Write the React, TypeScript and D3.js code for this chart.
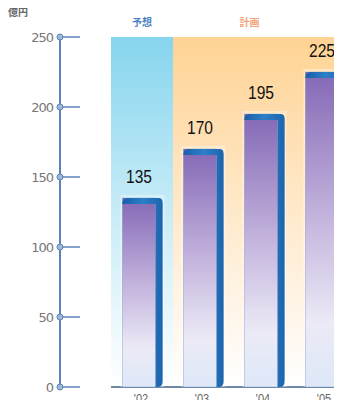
import * as d3 from 'd3'

// data
const years = ["'02", "'03", "'04", "'05"]
const values = [135, 170, 195, 225]
const yTicks = [0, 50, 100, 150, 200, 250]
const periodLabels = ['予想', '計画']

const W = 342
const H = 408

export default function App() {
  const y = d3.scaleLinear().domain([0, 250]).range([387, 37])
  const x = d3.scaleBand<string>().domain(years).range([112, 356]).paddingInner(0.34).paddingOuter(0.17)

  const step = x.step()
  const gap = step * 0.34
  const splitX = (x("'03") ?? 0) - gap / 2
  const panelLeft = 111
  const base = y(0)
  const side = 7

  return (
    <div style={{ margin: -8 }}>
      <svg width={W} height={H} style={{ display: 'block', background: '#fff' }}>
        <defs>
          <linearGradient id="bluePanel" x1="0" y1="0" x2="0" y2="1">
            <stop offset="0" stopColor="#86d5ee" />
            <stop offset="0.5" stopColor="#c8ecf7" />
            <stop offset="1" stopColor="#ffffff" />
          </linearGradient>
          <linearGradient id="orangePanel" x1="0" y1="0" x2="0" y2="1">
            <stop offset="0" stopColor="#ffd394" />
            <stop offset="0.5" stopColor="#ffe9cb" />
            <stop offset="1" stopColor="#ffffff" />
          </linearGradient>
          <linearGradient id="barFace" x1="0" y1="0" x2="0" y2="1">
            <stop offset="0" stopColor="#8468b6" />
            <stop offset="0.45" stopColor="#c2b2dc" />
            <stop offset="0.8" stopColor="#eceaf6" />
            <stop offset="1" stopColor="#dde8f8" />
          </linearGradient>
          <linearGradient id="barSide" x1="0" y1="0" x2="1" y2="0">
            <stop offset="0" stopColor="#1c5ea8" />
            <stop offset="0.5" stopColor="#2c80c8" />
            <stop offset="1" stopColor="#1d64ad" />
          </linearGradient>
        </defs>

        {/* period panels */}
        <rect x={panelLeft} y={y(250)} width={splitX - panelLeft} height={base - y(250)} fill="url(#bluePanel)" />
        <rect x={splitX} y={y(250)} width={W - splitX} height={base - y(250)} fill="url(#orangePanel)" />
        <text x={(panelLeft + splitX) / 2} y={26} textAnchor="middle" fontSize={10} fill="#4f7fc0"
          fontFamily="Noto Sans CJK JP, sans-serif" fontWeight="bold">{periodLabels[0]}</text>
        <text x={(splitX + W) / 2 - 8} y={26} textAnchor="middle" fontSize={10} fill="#f2a27a"
          fontFamily="Noto Sans CJK JP, sans-serif" fontWeight="bold">{periodLabels[1]}</text>

        {/* baseline */}
        <line x1={panelLeft} x2={W} y1={base} y2={base} stroke="#3f5f8a" strokeWidth={1.5} />

        {/* bars */}
        {years.map((yr, i) => {
          const x0 = x(yr) ?? 0
          const bw = x.bandwidth()
          const top = y(values[i])
          const face = bw - side
          const cx = x0 + face / 2
          return (
            <g key={yr}>
              <rect x={x0 - 2} y={top - 3} width={bw + 4} height={base - top + 3} fill="#ffffff" opacity={0.35} />
              <rect x={x0} y={top} width={face} height={base - top} fill="url(#barFace)" />
              <rect x={x0} y={top} width={face} height={base - top} fill="none" stroke="#6c8cc0" strokeWidth={0.6} opacity={0.6} />
              <path
                d={`M${x0},${top + 6} Q${x0},${top} ${x0 + 5},${top} L${x0 + bw - 4},${top} Q${x0 + bw},${top} ${x0 + bw},${top + 5} L${x0 + bw},${base - 6} Q${x0 + bw},${base} ${x0 + bw - 5},${base} L${x0 + face},${base} L${x0 + face},${top + 6} Z`}
                fill="url(#barSide)"
              />
              <text transform={`translate(${cx},${top - 15}) scale(0.82,1)`} textAnchor="middle" fontSize={19}
                fontFamily="Liberation Sans, Arial, sans-serif" fill="#111">
                {values[i]}
              </text>
              <text transform={`translate(${cx + 2},403) scale(0.85,1)`} textAnchor="middle" fontSize={13}
                fontFamily="Liberation Sans, sans-serif" fill="#666">
                {yr}
              </text>
            </g>
          )
        })}

        {/* y axis */}
        <line x1={60} x2={60} y1={y(250)} y2={base} stroke="#5b83b8" strokeWidth={2} />
        {yTicks.map(t => (
          <g key={t} transform={`translate(0,${y(t)})`}>
            <line x1={60} x2={80} stroke="#5b83b8" strokeWidth={1.5} />
            <circle cx={60} cy={0} r={3} fill="#9fb8d8" stroke="#5b83b8" strokeWidth={1} />
            <text x={53} dy="0.35em" textAnchor="end" fontSize={13} fill="#777"
              fontFamily="DejaVu Sans, sans-serif" letterSpacing={-1}>{t}</text>
          </g>
        ))}
        <text x={8} y={16} fontSize={10} fill="#666" fontWeight="bold"
          fontFamily="Noto Sans CJK JP, sans-serif">億円</text>
      </svg>
    </div>
  )
}
